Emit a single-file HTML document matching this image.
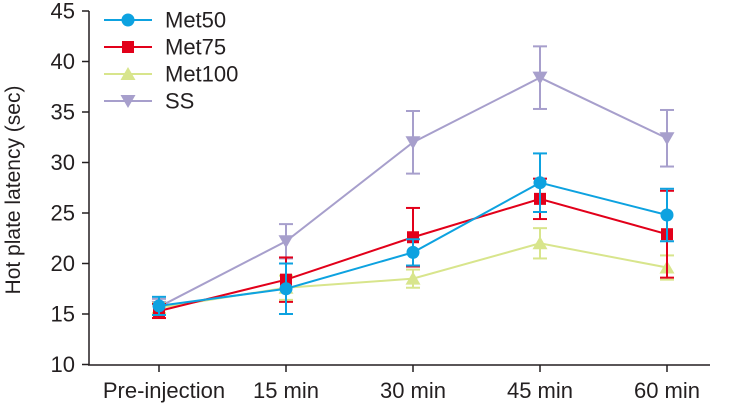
<!DOCTYPE html>
<html><head><meta charset="utf-8"><style>
html,body{margin:0;padding:0;background:#fff;}
svg{display:block;font-family:"Liberation Sans",Arial,sans-serif;}
</style></head><body>
<svg id="chart" width="738" height="407" viewBox="0 0 738 407"></svg>
<script>
const categories = ["Pre-injection","15 min","30 min","45 min","60 min"];
const yTicks = [10,15,20,25,30,35,40,45];
const seriesNames = ["Met50","Met75","Met100","SS"];
const met50 = [15.8,17.5,21.1,28.0,24.8];
const met50Err = [0.9,2.5,1.3,2.9,2.6];
const met75 = [15.3,18.4,22.6,26.4,22.9];
const met75Err = [0.7,2.2,2.9,2.0,4.3];
const met100 = [15.6,17.6,18.5,22.0,19.6];
const met100Err = [0.5,1.2,0.9,1.5,1.2];
const ss = [15.7,22.2,32.0,38.4,32.4];
const ssErr = [0.8,1.7,3.1,3.1,2.8];

const NS="http://www.w3.org/2000/svg";
const svg=document.getElementById('chart');
function el(t,a,p){const e=document.createElementNS(NS,t);for(const k in a)e.setAttribute(k,a[k]);(p||svg).appendChild(e);return e;}
const x0=159, dx=127;
function xs(i){return x0+i*dx;}
function ys(v){return 364.5-(v-10)*10.1;}
const axisColor="#231f20";

const ya=el('line',{x1:89,y1:ys(45),x2:89,y2:365,stroke:axisColor,'stroke-width':1.5});


const xa=el('line',{x1:88,y1:365,x2:710,y2:365,stroke:axisColor,'stroke-width':1.5});


yTicks.forEach(v=>{
  el('line',{x1:82,y1:ys(v),x2:89,y2:ys(v),stroke:axisColor,'stroke-width':1.5});
  const t=el('text',{x:75,y:ys(v)+7.5,'text-anchor':'end','font-size':22,fill:axisColor});
  t.textContent=v;
  
  
});
categories.forEach((c,i)=>{
  el('line',{x1:xs(i),y1:365,x2:xs(i),y2:372,stroke:axisColor,'stroke-width':1.5});
  const t=el('text',{x:xs(i)+(i==0?5:0),y:398,'text-anchor':'middle','font-size':22,fill:axisColor});
  t.textContent=c;
  
  
});
const yt=el('text',{x:0,y:0,'text-anchor':'middle','font-size':21,fill:axisColor,transform:'translate(20,190) rotate(-90)'});
yt.textContent="Hot plate latency (sec)";



function marker(g,type,cx,cy,color){
  if(type==='circle') return el('circle',{cx:cx,cy:cy,r:6.5,fill:color},g);
  if(type==='square') return el('rect',{x:cx-6,y:cy-6,width:12,height:12,fill:color},g);
  if(type==='up') return el('polygon',{points:`${cx},${cy-7} ${cx-7.5},${cy+6} ${cx+7.5},${cy+6}`,fill:color},g);
  return el('polygon',{points:`${cx},${cy+7} ${cx-7.5},${cy-6} ${cx+7.5},${cy-6}`,fill:color},g);
}
const series=[
 {vals:ss,err:ssErr,color:"#a79fcc",m:'down',name:'series-ss'},
 {vals:met100,err:met100Err,color:"#d8e58c",m:'up',name:'series-met100'},
 {vals:met75,err:met75Err,color:"#e2001a",m:'square',name:'series-met75'},
 {vals:met50,err:met50Err,color:"#0da2e0",m:'circle',name:'series-met50'}
];
series.forEach(s=>{
  const g=el('g',{});
  
  
  s.vals.forEach((v,i)=>{
    const e=s.err[i], x=xs(i);
    el('line',{x1:x,y1:ys(v+e),x2:x,y2:ys(v-e),stroke:s.color,'stroke-width':2},g);
    el('line',{x1:x-7,y1:ys(v+e),x2:x+7,y2:ys(v+e),stroke:s.color,'stroke-width':2},g);
    el('line',{x1:x-7,y1:ys(v-e),x2:x+7,y2:ys(v-e),stroke:s.color,'stroke-width':2},g);
  });
  el('polyline',{points:s.vals.map((v,i)=>xs(i)+','+ys(v)).join(' '),fill:'none',stroke:s.color,'stroke-width':2},g);
  s.vals.forEach((v,i)=>{
    const mk=marker(g,s.m,xs(i),ys(v),s.color);
    
    
  });
});
const legendColors=["#0da2e0","#e2001a","#d8e58c","#a79fcc"];
const legendMarkers=['circle','square','up','down'];
seriesNames.forEach((n,i)=>{
  const g=el('g',{});
  
  
  const y=20+i*27;
  el('line',{x1:104,y1:y,x2:152,y2:y,stroke:legendColors[i],'stroke-width':2},g);
  marker(g,legendMarkers[i],128,y,legendColors[i]);
  const t=el('text',{x:165,y:y+7.5,'font-size':22,fill:axisColor},g);
  t.textContent=n;
});
</script>
</body></html>
